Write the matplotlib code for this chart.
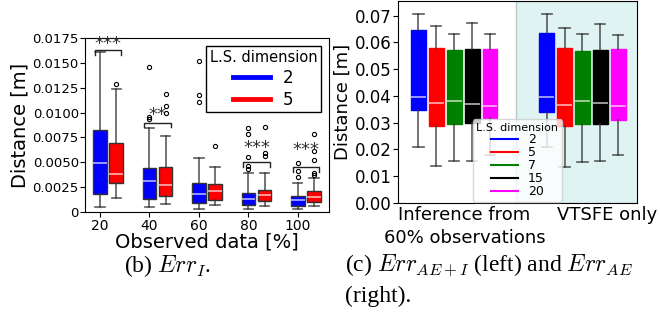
import matplotlib
matplotlib.use("Agg")
import matplotlib.pyplot as plt
from matplotlib.lines import Line2D

plt.rcParams["mathtext.fontset"] = "cm"

# (b) Err_I : observed data [%] vs distance, L.S. dimension 2 (blue) and 5 (red)
observed = [20, 40, 60, 80, 100]
# [whisker low, q1, median, q3, whisker high]
dim2_stats = [
    [0.0005, 0.00186, 0.00497, 0.0082, 0.01605],
    [0.0005, 0.00128, 0.0031, 0.00439, 0.00845],
    [0.00027, 0.00095, 0.00182, 0.00294, 0.0054],
    [0.00027, 0.00074, 0.00135, 0.00196, 0.0039],
    [0.00027, 0.00061, 0.00118, 0.00162, 0.00287],
]
dim5_stats = [
    [0.00145, 0.00294, 0.00382, 0.00693, 0.01233],
    [0.00078, 0.00162, 0.00267, 0.0045, 0.0076],
    [0.00068, 0.00125, 0.00213, 0.0028, 0.0045],
    [0.00057, 0.00108, 0.00169, 0.00226, 0.00395],
    [0.00057, 0.001, 0.00152, 0.0021, 0.0034],
]
dim2_fliers = [
    [],
    [0.0146, 0.0096, 0.0094],
    [0.0152, 0.01176, 0.01105],
    [0.00845, 0.0078, 0.0055, 0.0046, 0.0043],
    [0.00497, 0.0041, 0.00355],
]
dim5_fliers = [
    [0.0129],
    [0.0119, 0.0107, 0.0100],
    [0.0066],
    [0.0085, 0.0059, 0.0056],
    [0.0078, 0.0061, 0.0052, 0.0039, 0.0037],
]
sig_groups = [0, 1, 3, 4]
sig_labels = ["***", "**", "***", "***"]
sig_bracket = [0.0163, 0.0090, 0.0050, 0.00456]
sig_text = [0.0169, 0.0098, 0.0064, 0.0062]

# (c) Err_AE+I (left) and Err_AE (right)
ls_dims = ["2", "5", "7", "15", "20"]
ls_colors = ["#0000ff", "#ff0000", "#008000", "#000000", "#ff00ff"]
conditions = ["Inference from\n60% observations", "VTSFE only"]
ae_i_stats = [
    [0.0208, 0.0347, 0.0398, 0.0645, 0.0705],
    [0.0139, 0.0286, 0.0372, 0.0579, 0.0661],
    [0.0158, 0.0297, 0.0380, 0.0571, 0.0630],
    [0.0158, 0.0300, 0.0369, 0.0574, 0.0674],
    [0.0179, 0.0316, 0.0362, 0.0574, 0.0630],
]
ae_stats = [
    [0.0208, 0.0341, 0.0398, 0.0635, 0.0705],
    [0.0136, 0.0288, 0.0366, 0.0579, 0.0655],
    [0.0155, 0.0295, 0.0380, 0.0568, 0.0630],
    [0.0158, 0.0297, 0.0375, 0.0572, 0.0670],
    [0.0179, 0.0312, 0.0363, 0.0574, 0.0628],
]


def to_bxp(s, fl=()):
    return dict(whislo=s[0], q1=s[1], med=s[2], q3=s[3], whishi=s[4], fliers=list(fl))


def draw_boxes(ax, stats, fliers, pos, color, width, edge):
    b = ax.bxp([to_bxp(s, f) for s, f in zip(stats, fliers)], positions=pos, widths=width,
               patch_artist=True, showfliers=True, capwidths=width * 0.7,
               boxprops=dict(facecolor=color, edgecolor=edge, linewidth=1),
               medianprops=dict(color="white", alpha=0.7, linewidth=1.2),
               whiskerprops=dict(color="#333333", linewidth=1.2, alpha=0.8),
               capprops=dict(color="#333333", linewidth=1.2, alpha=0.8),
               flierprops=dict(marker="o", markersize=3, markerfacecolor="none",
                               markeredgecolor="black", markeredgewidth=0.8))
    return b


fig = plt.figure(figsize=(6.6, 3.15), dpi=100)
W, H = 660, 315

# ---------- left panel ----------
ax1 = fig.add_axes([85 / W, (H - 212) / H, 244 / W, 174 / H])
pos_blue = [i + 1 for i in range(len(observed))]
pos_red = [p + 0.33 for p in pos_blue]
bw = 0.27
draw_boxes(ax1, dim2_stats, dim2_fliers, pos_blue, "#0000ff", bw, "#333333")
draw_boxes(ax1, dim5_stats, dim5_fliers, pos_red, "#ff0000", bw, "#333333")

for g, lab, yb, yt in zip(sig_groups, sig_labels, sig_bracket, sig_text):
    x0 = pos_blue[g] - 0.1
    x1 = pos_red[g] + 0.1
    ax1.plot([x0, x0, x1, x1], [yb - 0.0005, yb, yb, yb - 0.0005], color="#222222", lw=1)
    ax1.text((x0 + x1) / 2, yt, lab, ha="center", va="center", fontsize=13, color="#333333")

ax1.set_xlim(0.7, 5.63)
ax1.set_ylim(0, 0.0175)
ax1.set_xticks(pos_blue)
ax1.set_xticklabels([str(o) for o in observed], fontsize=10)
yt1 = [0, 0.0025, 0.005, 0.0075, 0.01, 0.0125, 0.015, 0.0175]
ax1.set_yticks(yt1)
ax1.set_yticklabels(["0"] + ["%.4f" % v for v in yt1[1:]], fontsize=9.5)
ax1.tick_params(axis="y", pad=1)
ax1.tick_params(axis="x", pad=1.5)
ax1.set_xlabel("Observed data [%]", fontsize=14, labelpad=0)
ax1.set_ylabel("Distance [m]", fontsize=14, labelpad=2)

h1 = [Line2D([0], [0], color=c, lw=3.5) for c in ls_colors[:2]]
leg1 = ax1.legend(h1, ls_dims[:2], title="L.S. dimension", loc="upper right",
                  fontsize=12, title_fontsize=10.5, fancybox=False, edgecolor="black",
                  framealpha=1, handlelength=2.2, alignment="center",
                  borderaxespad=0.5, labelspacing=0.25, borderpad=0.2)
leg1.get_frame().set_linewidth(1)

# ---------- right panel ----------
ax2 = fig.add_axes([398 / W, (H - 203) / H, 239 / W, 202 / H])
ax2.axvspan(0.48, 1.5, facecolor="#dff4f2", edgecolor="#b8c8c8", lw=1, zorder=0)
step = 0.14
rw = 0.113
for k, col in enumerate(ls_colors):
    off = (k - 2) * step
    draw_boxes(ax2, [ae_i_stats[k], ae_stats[k]], [[], []], [0 + off, 1 + off], col, rw, col)

ax2.set_xlim(-0.44, 1.426)
ax2.set_ylim(0, 0.0755)
ax2.set_yticks([0, 0.01, 0.02, 0.03, 0.04, 0.05, 0.06, 0.07])
ax2.set_yticklabels(["%.2f" % v for v in ax2.get_yticks()], fontsize=12)
ax2.set_xticks([0.08, 1.19])
ax2.set_xticklabels(conditions, fontsize=13, linespacing=1.4)
ax2.tick_params(axis="x", length=0, pad=2)
ax2.tick_params(axis="y", pad=1)
ax2.set_ylabel("Distance [m]", fontsize=13, labelpad=2)

h2 = [Line2D([0], [0], color=c, lw=1.5) for c in ls_colors]
ax2.legend(h2, ls_dims, title="L.S. dimension", loc="lower center", fontsize=9,
           title_fontsize=8, labelspacing=0.0, handlelength=2.1, alignment="center",
           borderaxespad=0.1, borderpad=0.3)

# ---------- captions ----------
cap = dict(fontsize=17, family="Liberation Serif", va="baseline")
fig.text(124 / W, 1 - 272 / H, r"(b) $Err_I$.", **cap)
fig.text(345 / W, 1 - 272 / H, r"(c) $Err_{AE+I}$ (left) and $Err_{AE}$", **cap)
fig.text(345 / W, 1 - 302 / H, "(right).", **cap)

fig.savefig("out.png", dpi=100)
